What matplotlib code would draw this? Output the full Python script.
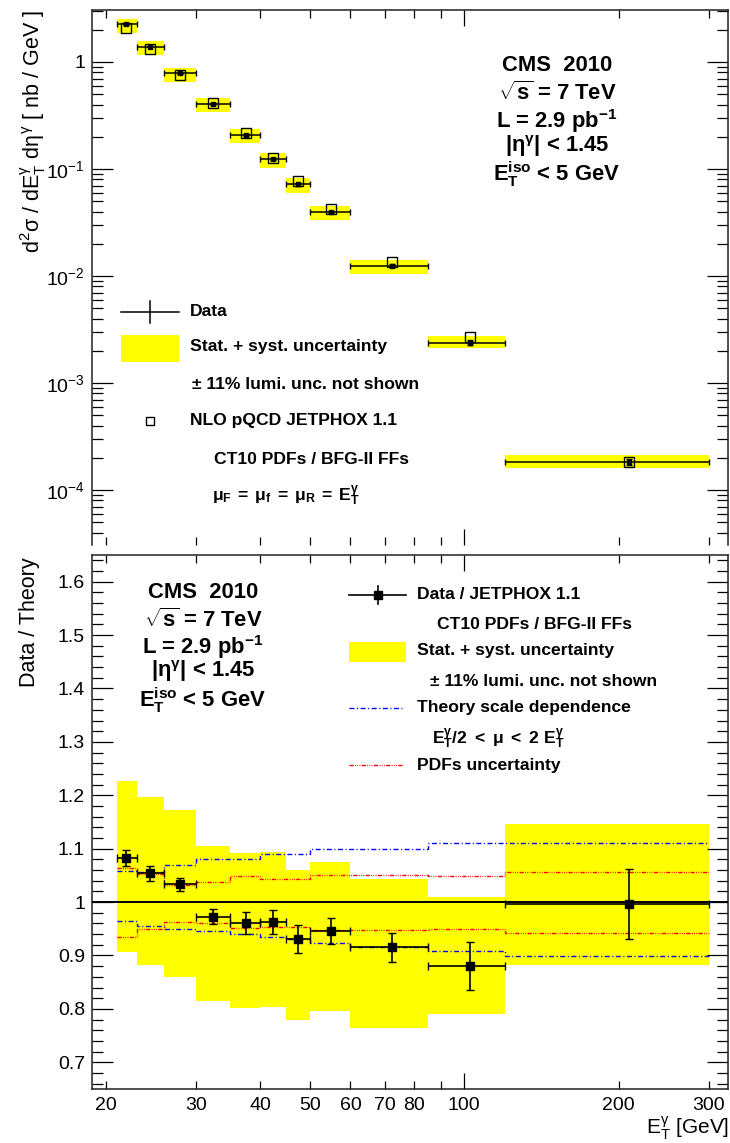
import numpy as np
import matplotlib
matplotlib.use("Agg")
import matplotlib.pyplot as plt
from matplotlib.ticker import FixedLocator, FixedFormatter, MultipleLocator, NullFormatter
from matplotlib.patches import Rectangle
from matplotlib.lines import Line2D

plt.rcParams['font.family'] = ['Liberation Sans', 'DejaVu Sans']
plt.rcParams['mathtext.fontset'] = 'custom'
plt.rcParams['mathtext.rm'] = 'Liberation Sans'
plt.rcParams['mathtext.it'] = 'Liberation Sans'
plt.rcParams['mathtext.sf'] = 'Liberation Sans'
plt.rcParams['mathtext.bf'] = 'Liberation Sans:bold'

# --- photon E_T bins [GeV] ---
bin_edges = [21, 23, 26, 30, 35, 40, 45, 50, 60, 85, 120, 300]
et_centers = [21.9, 24.4, 27.9, 32.4, 37.5, 42.4, 47.4, 55.0, 72.4, 102.6, 209.8]

# --- cross sections [nb/GeV] ---
xsec_theory = [2.07, 1.32, 0.756, 0.417, 0.218, 0.128, 0.0773, 0.042, 0.0136, 0.00271, 1.84e-4]
xsec_data = [2.24, 1.39, 0.781, 0.406, 0.2095, 0.1233, 0.0720, 0.0397, 0.01244, 0.00238, 1.83e-4]

# --- data / theory ---
ratio = [1.082, 1.054, 1.033, 0.973, 0.961, 0.963, 0.931, 0.946, 0.915, 0.880, 0.996]
ratio_stat = [0.015, 0.014, 0.012, 0.014, 0.020, 0.022, 0.027, 0.024, 0.027, 0.045, 0.066]
band_hi = [1.227, 1.197, 1.173, 1.105, 1.092, 1.094, 1.060, 1.075, 1.043, 1.009, 1.146]
band_lo = [0.907, 0.882, 0.860, 0.815, 0.801, 0.803, 0.779, 0.796, 0.764, 0.791, 0.882]

# --- theory uncertainties ---
scale_hi = [1.059, 1.057, 1.069, 1.080, 1.080, 1.090, 1.090, 1.099, 1.099, 1.110, 1.110]
scale_lo = [0.964, 0.955, 0.949, 0.946, 0.940, 0.935, 0.931, 0.924, 0.916, 0.908, 0.899]
pdf_hi = [1.064, 1.052, 1.032, 1.038, 1.049, 1.043, 1.043, 1.050, 1.050, 1.049, 1.057]
pdf_lo = [0.935, 0.949, 0.963, 0.960, 0.952, 0.954, 0.954, 0.948, 0.948, 0.949, 0.943]

YELLOW = '#ffff00'
BLUE_DASH = (0, (3.6, 1.8, 0.8, 1.8))
RED_DASH = (0, (3.0, 1.0, 0.6, 1.0, 0.6, 1.0, 0.6, 1.0))

edges = np.array(bin_edges, dtype=float)
lefts, rights = edges[:-1], edges[1:]
widths = rights - lefts
xc = np.array(et_centers)
xerr = [xc - lefts, rights - xc]
r = np.array(ratio)
rs = np.array(ratio_stat)
d = np.array(xsec_data)

fig = plt.figure(figsize=(7.3, 11.43), dpi=100)
W, H = 730, 1143
ax_top = fig.add_axes([92 / W, 1 - 545 / H, 636 / W, 535 / H])
ax_bot = fig.add_axes([92 / W, 1 - 1089 / H, 636 / W, 534 / H])

TICK_FS = 14
LAB_FS = 15.5
LEG_FS = 12.6
BLOCK_FS = 15.8


def style_axis(ax):
    ax.set_xscale('log')
    ax.set_xlim(18.8, 327)
    for s in ax.spines.values():
        s.set_linewidth(1.1)
        s.set_color('#222222')
    ax.xaxis.set_major_locator(FixedLocator([100]))
    ax.xaxis.set_minor_locator(FixedLocator([20, 30, 40, 50, 60, 70, 80, 90, 200, 300]))
    ax.tick_params(axis='x', which='major', direction='in', length=11.5, width=0.9,
                   top=True, bottom=True, labelsize=TICK_FS, pad=6)
    ax.tick_params(axis='x', which='minor', direction='in', length=5.8, width=0.9,
                   top=True, bottom=True, labelsize=TICK_FS, pad=6)
    ax.tick_params(axis='y', which='major', direction='in', length=15, width=0.9,
                   left=True, right=True, labelsize=TICK_FS, pad=5)
    ax.tick_params(axis='y', which='minor', direction='in', length=8, width=0.9,
                   left=True, right=True)


# ---------------- upper panel: cross section ----------------
style_axis(ax_top)
ax_top.set_yscale('log')
ax_top.set_ylim(3.06e-5, 3.06)
ax_top.spines['bottom'].set_visible(False)
ax_top.xaxis.set_major_formatter(NullFormatter())
ax_top.xaxis.set_minor_formatter(NullFormatter())
ax_top.yaxis.set_major_locator(FixedLocator([1e-4, 1e-3, 1e-2, 1e-1, 1]))
ax_top.yaxis.set_major_formatter(FixedFormatter(
    [r'$10^{-4}$', r'$10^{-3}$', r'$10^{-2}$', r'$10^{-1}$', '1']))
minor_y = [m * 10.0 ** e for e in range(-5, 1) for m in range(2, 10)]
ax_top.yaxis.set_minor_locator(FixedLocator(minor_y))
ax_top.yaxis.set_minor_formatter(NullFormatter())

top_hi = d * np.array(band_hi) / r
top_lo = d * np.array(band_lo) / r
ax_top.bar(lefts, top_hi - top_lo, width=widths, bottom=top_lo, align='edge',
           color=YELLOW, linewidth=0, zorder=1)
ax_top.plot(xc, xsec_theory, linestyle='none', marker='s', markersize=6.5,
            markerfacecolor='none', markeredgecolor='black', markeredgewidth=1.0, zorder=4)
ax_top.errorbar(xc, d, xerr=xerr, yerr=d * rs / r, fmt='s', markersize=2.5,
                color='black', elinewidth=1.1, capsize=2.5, capthick=1.0, zorder=3)

# upper legend
T = ax_top.transAxes
ax_top.add_line(Line2D([0.0456, 0.1368], [0.436, 0.436], transform=T, color='black', lw=1.1))
ax_top.add_line(Line2D([0.0912, 0.0912], [0.4155, 0.4566], transform=T, color='black', lw=1.1))
ax_top.add_patch(Rectangle((0.0456, 0.3426), 0.0912, 0.0499, transform=T,
                           facecolor=YELLOW, edgecolor='none'))
ax_top.plot([0.0912], [0.2318], transform=T, marker='s', markersize=6,
            markerfacecolor='none', markeredgecolor='black', markeredgewidth=1.0)
leg_kw = dict(transform=T, fontsize=LEG_FS, fontweight='bold', va='center', ha='left')
ax_top.text(0.1541, 0.436, 'Data', **leg_kw)
ax_top.text(0.1541, 0.3707, 'Stat. + syst. uncertainty', **leg_kw)
ax_top.text(0.1572, 0.2991, '\u00b1 11% lumi. unc. not shown', **leg_kw)
ax_top.text(0.1541, 0.2318, 'NLO pQCD JETPHOX 1.1', **leg_kw)
ax_top.text(0.1918, 0.1607, 'CT10 PDFs / BFG-II FFs', **leg_kw)
ax_top.text(0.1887, 0.0916,
            r'$\mathbf{\mu_{F}\;=\;\mu_{f}\;=\;\mu_{R}\;=\;E_{T}^{\gamma}}$', **leg_kw)


def info_block(ax, xfrac, ys):
    kw = dict(transform=ax.transAxes, fontsize=BLOCK_FS, fontweight='bold',
              ha='center', va='center')
    ax.text(xfrac, ys[0], 'CMS  2010', **kw)
    ax.text(xfrac, ys[1], r'$\sqrt{\mathbf{s}}$ = 7 TeV', **kw)
    ax.text(xfrac, ys[2], r'L = 2.9 pb$^{\mathbf{-1}}$', **kw)
    ax.text(xfrac, ys[3], r'|$\mathbf{\eta^{\gamma}}$| < 1.45', **kw)
    ax.text(xfrac, ys[4], r'$\mathbf{E_{T}^{iso}}$ < 5 GeV', **kw)


info_block(ax_top, 0.7311, [0.8959, 0.8449, 0.7931, 0.7463, 0.6935])

fig.text(33 / W, 1 - 10 / H,
         r'd$^{2}$$\sigma$ / dE$_{T}^{\gamma}$ d$\eta^{\gamma}$ [ nb / GeV ]',
         rotation=90, ha='center', va='top', fontsize=LAB_FS)

# ---------------- lower panel: data / theory ----------------
style_axis(ax_bot)
ax_bot.set_ylim(0.65, 1.65)
ax_bot.yaxis.set_major_locator(MultipleLocator(0.1))
ax_bot.yaxis.set_minor_locator(MultipleLocator(0.02))
ax_bot.yaxis.set_major_formatter(
    matplotlib.ticker.FuncFormatter(lambda v, p: '1' if abs(v - 1) < 1e-6 else f'{v:.1f}'))
ax_bot.xaxis.set_major_formatter(FixedFormatter(['100']))
ax_bot.xaxis.set_minor_formatter(FixedFormatter(
    ['20', '30', '40', '50', '60', '70', '80', '', '200', '300']))

bh = np.array(band_hi)
bl = np.array(band_lo)
ax_bot.bar(lefts, bh - bl, width=widths, bottom=bl, align='edge',
           color=YELLOW, linewidth=0, zorder=1)
for vals, col, ls in [(scale_hi, 'blue', BLUE_DASH), (scale_lo, 'blue', BLUE_DASH),
                      (pdf_hi, 'red', RED_DASH), (pdf_lo, 'red', RED_DASH)]:
    ax_bot.stairs(vals, edges, baseline=None, color=col, linestyle=ls, lw=1.0, zorder=2)
ax_bot.axhline(1.0, color='black', lw=1.4, zorder=3)
ax_bot.errorbar(xc, r, xerr=xerr, yerr=rs, fmt='s', markersize=5.5, color='black',
                elinewidth=1.2, capsize=3, capthick=1.0, zorder=4)

B = ax_bot.transAxes
ax_bot.add_line(Line2D([0.4041, 0.4932], [0.9251, 0.9251], transform=B, color='black', lw=1.2))
ax_bot.add_line(Line2D([0.4492, 0.4492], [0.9082, 0.9419], transform=B, color='black', lw=1.2))
ax_bot.plot([0.4492], [0.9251], transform=B, marker='s', markersize=5.5, color='black')
ax_bot.add_patch(Rectangle((0.4041, 0.7993), 0.0891, 0.0372, transform=B,
                           facecolor=YELLOW, edgecolor='none'))
ax_bot.add_line(Line2D([0.4041, 0.4874], [0.714, 0.714], transform=B, color='blue',
                       lw=1.0, linestyle=BLUE_DASH))
ax_bot.add_line(Line2D([0.4041, 0.4874], [0.6067, 0.6067], transform=B, color='red',
                       lw=1.0, linestyle=RED_DASH))
leg_kw = dict(transform=B, fontsize=LEG_FS, fontweight='bold', va='center', ha='left')
ax_bot.text(0.511, 0.9251, 'Data / JETPHOX 1.1', **leg_kw)
ax_bot.text(0.542, 0.8702, 'CT10 PDFs / BFG-II FFs', **leg_kw)
ax_bot.text(0.511, 0.8208, 'Stat. + syst. uncertainty', **leg_kw)
ax_bot.text(0.5314, 0.7627, '\u00b1 11% lumi. unc. not shown', **leg_kw)
ax_bot.text(0.511, 0.714, 'Theory scale dependence', **leg_kw)
ax_bot.text(0.535, 0.6549,
            r'$\mathbf{E_{T}^{\gamma}/2\ <\ \mu\ <\ 2\ E_{T}^{\gamma}}$', **leg_kw)
ax_bot.text(0.511, 0.6067, 'PDFs uncertainty', **leg_kw)

info_block(ax_bot, 0.1745, [0.9294, 0.8770, 0.8283, 0.7828, 0.7285])

fig.text(30 / W, 1 - 557 / H, 'Data / Theory', rotation=90, ha='center', va='top',
         fontsize=LAB_FS)
fig.text(729 / W, 1 - 1134 / H, r'E$_{T}^{\gamma}$ [GeV]', ha='right', va='baseline',
         fontsize=15)

fig.savefig('out.png', dpi=100)
